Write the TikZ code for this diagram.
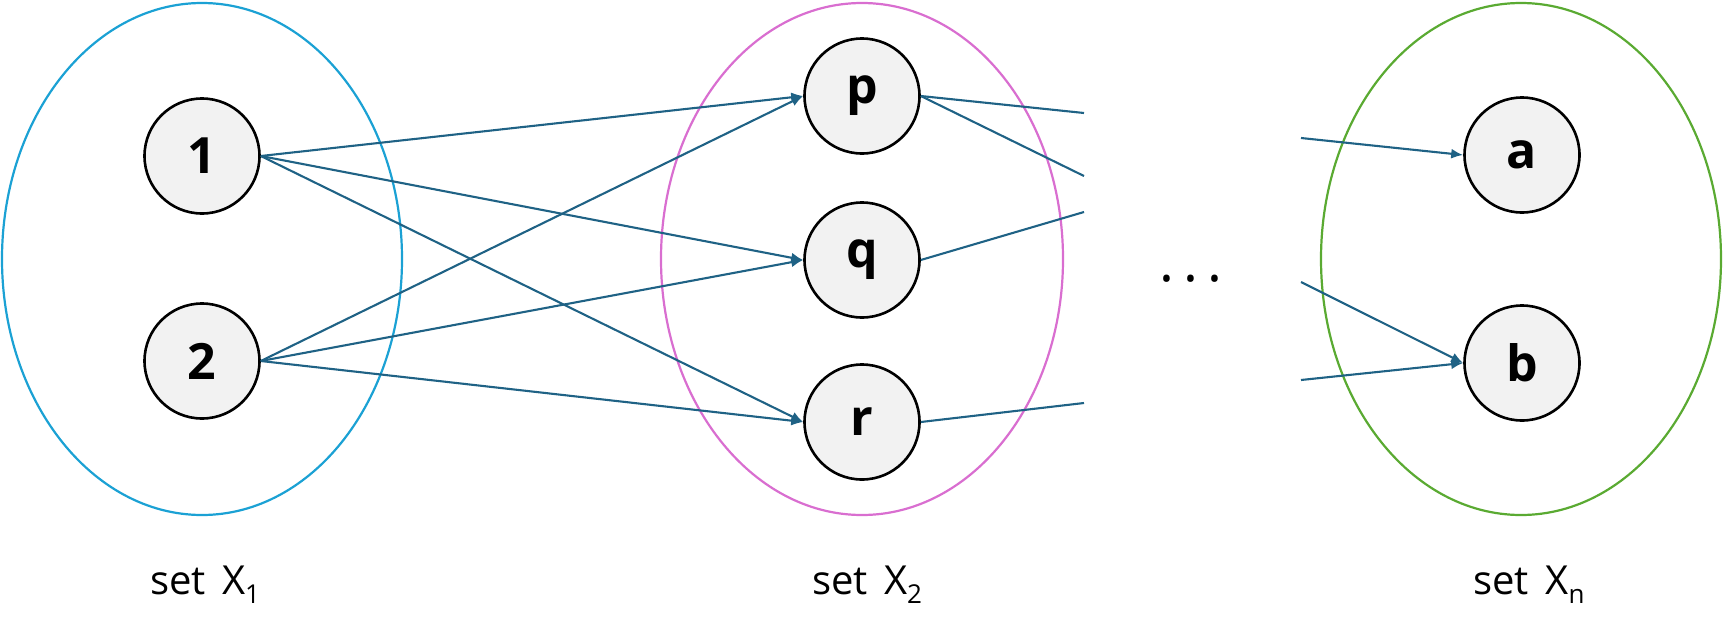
\documentclass[tikz,border=0pt]{standalone}
\usepackage{fontspec}
\setmainfont{Open Sans}
\usetikzlibrary{arrows.meta}
\definecolor{cblue}{HTML}{1BA1D4}
\definecolor{cpink}{HTML}{D96ED0}
\definecolor{cgreen}{HTML}{5AAA32}
\definecolor{cedge}{HTML}{1F6285}
\definecolor{cfill}{HTML}{F2F2F2}
\newcommand{\setname}[1]{set\hspace{3pt} X\raisebox{-4.5pt}{\fontsize{13}{15}\selectfont #1}}
\begin{document}
\begin{tikzpicture}[x=0.5pt,y=-0.5pt,
  elem/.style={circle, draw=black, line width=1.3pt, fill=cfill, minimum size=57.5pt, inner sep=0pt,
    font=\fontsize{25}{29}\selectfont\bfseries},
  setring/.style={line width=1.1pt},
  conn/.style={draw=cedge, line width=1.05pt},
  arr/.style={conn, -{Latex[length=6pt,width=5pt]}},
  setlabel/.style={font=\fontsize{20}{24}\selectfont, inner sep=0pt}]
\useasboundingbox (0,0) rectangle (1725,627);
% sets
\draw[setring, cblue] (202,259) ellipse [x radius=100pt, y radius=128pt];
\draw[setring, cpink] (862,259) ellipse [x radius=100.5pt, y radius=128pt];
\draw[setring, cgreen] (1521,259) ellipse [x radius=100pt, y radius=128pt];
% elements
\node[elem] (n1) at (202,156) {1};
\node[elem] (n2) at (202,361) {2};
\node[elem] (p) at (862,96) {p};
\node[elem] (q) at (862,260) {q};
\node[elem] (r) at (862,422) {r};
\node[elem] (a) at (1522,155) {a};
\node[elem] (b) at (1522,363) {b};
% connectors X1 -> X2
\draw[arr] (n1.east) -- (p.west);
\draw[arr] (n1.east) -- (q.west);
\draw[arr] (n1.east) -- (r.west);
\draw[arr] (n2.east) -- (p.west);
\draw[arr] (n2.east) -- (q.west);
\draw[arr] (n2.east) -- (r.west);
% outgoing from X2 (cut off)
\coordinate (po1) at (1084,113);
\coordinate (po2) at (1084,176);
\coordinate (qo) at (1084,212);
\coordinate (ro) at (1084,403);
\draw[conn] (p.east) -- (po1);
\draw[conn] (p.east) -- (po2);
\draw[conn] (q.east) -- (qo);
\draw[conn] (r.east) -- (ro);
% incoming to Xn
\coordinate (ai) at (1301,138);
\coordinate (bi1) at (1301,282);
\coordinate (bi2) at (1301,380);
\draw[arr] (ai) -- (a.west);
\draw[arr] (bi1) -- (b.west);
\draw[arr] (bi2) -- (b.west);
% dots
\node[font=\fontsize{28}{32}\selectfont, inner sep=0pt] (dots) at (1191,287) {·\hspace{4.5pt}·\hspace{4.5pt}·};
% labels
\node[setlabel] (l1) at (205,585) {\setname{1}};
\node[setlabel] (l2) at (867,585) {\setname{2}};
\node[setlabel] (ln) at (1529,585) {\setname{n}};
\end{tikzpicture}
\end{document}
